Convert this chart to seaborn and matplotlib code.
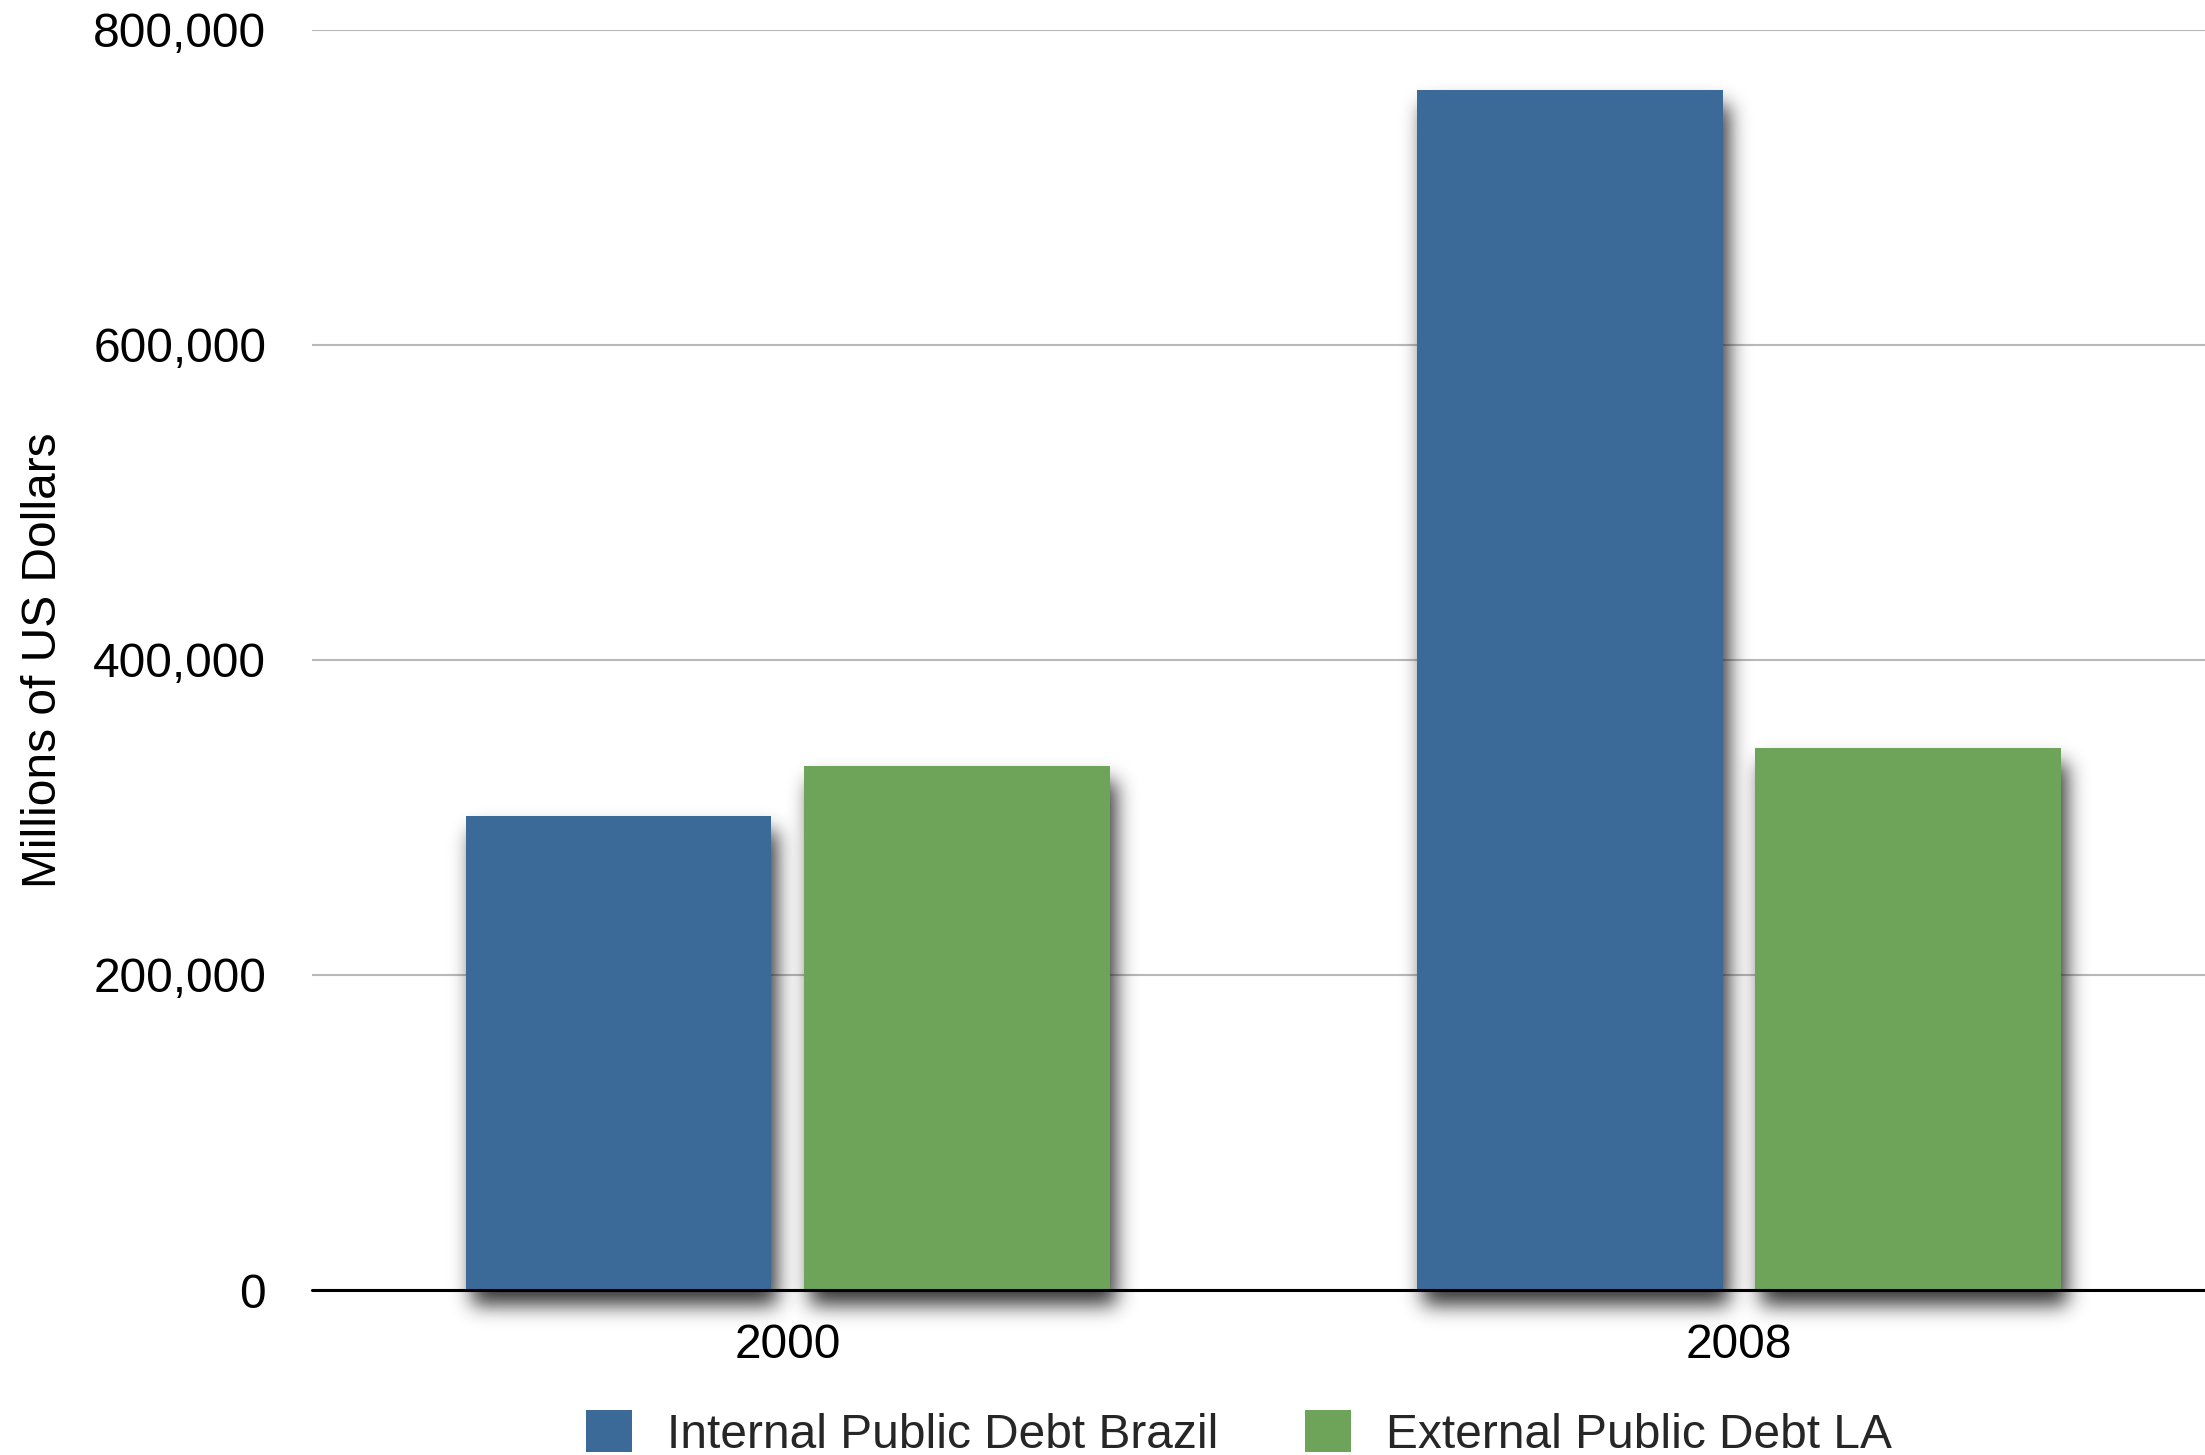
import numpy as np
import pandas as pd
import matplotlib
matplotlib.use("Agg")
import matplotlib.pyplot as plt
from matplotlib.patches import Rectangle
from matplotlib.ticker import FuncFormatter
import seaborn as sns

# Debt figures in millions of US dollars
years = ["2000", "2008"]
series_names = ["Internal Public Debt Brazil", "External Public Debt LA"]
internal_brazil = [301000, 762000]
external_la = [333000, 344000]
series_colors = ["#3b6a99", "#6ea45a"]
y_ticks = [0, 200000, 400000, 600000, 800000]

df = pd.DataFrame({
    "Year": years * 2,
    "Series": [series_names[0]] * len(years) + [series_names[1]] * len(years),
    "Value": internal_brazil + external_la,
})

sns.set_theme(style="white")
plt.rcParams["font.family"] = ["Liberation Sans", "DejaVu Sans"]

FS = 34.5

fig = plt.figure(figsize=(22.05, 14.55), dpi=100)
ax = fig.add_axes([312 / 2205, 1 - 1290 / 1455, 1 - 312 / 2205, (1290 - 30) / 1455])

sns.barplot(data=df, x="Year", y="Value", hue="Series", hue_order=series_names,
            palette=series_colors, width=0.711, gap=0.0956, saturation=1,
            linewidth=0, edgecolor="none", ax=ax, legend=False, zorder=3)


def gaussian_blur(a, sigma):
    r = int(3 * sigma)
    k = np.exp(-0.5 * (np.arange(-r, r + 1) / sigma) ** 2)
    k /= k.sum()
    a = np.apply_along_axis(lambda m: np.convolve(m, k, mode="same"), 0, a)
    a = np.apply_along_axis(lambda m: np.convolve(m, k, mode="same"), 1, a)
    return a


class DropShadow:
    """Blurred, offset copy of an artist's alpha channel."""

    def __init__(self, sigma=10, dx=6, dy=15, alpha=0.9):
        self.sigma, self.dx, self.dy, self.alpha = sigma, dx, dy, alpha

    def __call__(self, im, dpi):
        pad = int(3 * self.sigma) + max(self.dx, self.dy) + 2
        src = np.pad(im, [(pad, pad), (pad, pad), (0, 0)], "constant")
        a = src[..., 3]
        a = np.roll(np.roll(a, self.dx, axis=1), self.dy, axis=0)
        a = gaussian_blur(a, self.sigma)
        out = np.zeros_like(src)
        out[..., 0:3] = 0.12
        out[..., 3] = np.clip(a * self.alpha, 0, 1)
        return out, -pad, -pad


shadow_filter = DropShadow()
for bar in list(ax.patches):
    sh = Rectangle(bar.get_xy(), bar.get_width(), bar.get_height(),
                   facecolor="black", edgecolor="none", zorder=2,
                   transform=ax.transData, clip_on=False)
    sh.set_agg_filter(shadow_filter)
    sh.set_rasterized(True)
    ax.add_patch(sh)

ax.set_xlim(-0.5, 1.49)
ax.set_ylim(0, 800000)
ax.set_yticks(y_ticks)
ax.yaxis.set_major_formatter(FuncFormatter(lambda v, p: f"{int(v):,}"))

ax.grid(axis="y", color="#b8b8b8", linewidth=1.5, zorder=0)
ax.grid(axis="x", visible=False)
ax.set_axisbelow(True)
for s in ax.spines.values():
    s.set_visible(False)
ax.axhline(0, color="black", linewidth=2.2, zorder=5, clip_on=False)

ax.tick_params(axis="y", length=0, pad=33, labelsize=FS, labelcolor="black")
ax.tick_params(axis="x", length=0, pad=24, labelsize=FS, labelcolor="black")
ax.set_xlabel("")
ax.set_ylabel("Millions of US Dollars", fontsize=FS, color="black")
ax.yaxis.label.set_va("center")
ax.yaxis.set_label_coords((44 - 312) / (2205 - 312), 0.5)
ax.set_facecolor("white")

handles = [Rectangle((0, 0), 1, 1, facecolor=c, edgecolor="none") for c in series_colors]
fig.legend(handles, series_names, loc="center", bbox_to_anchor=(1239 / 2205, 1 - 1434 / 1455),
           ncol=2, frameon=False, fontsize=FS, handlelength=0.96, handleheight=0.96,
           handletextpad=0.73, columnspacing=1.82, borderpad=0)

fig.savefig("out.png", dpi=100, facecolor="white")
